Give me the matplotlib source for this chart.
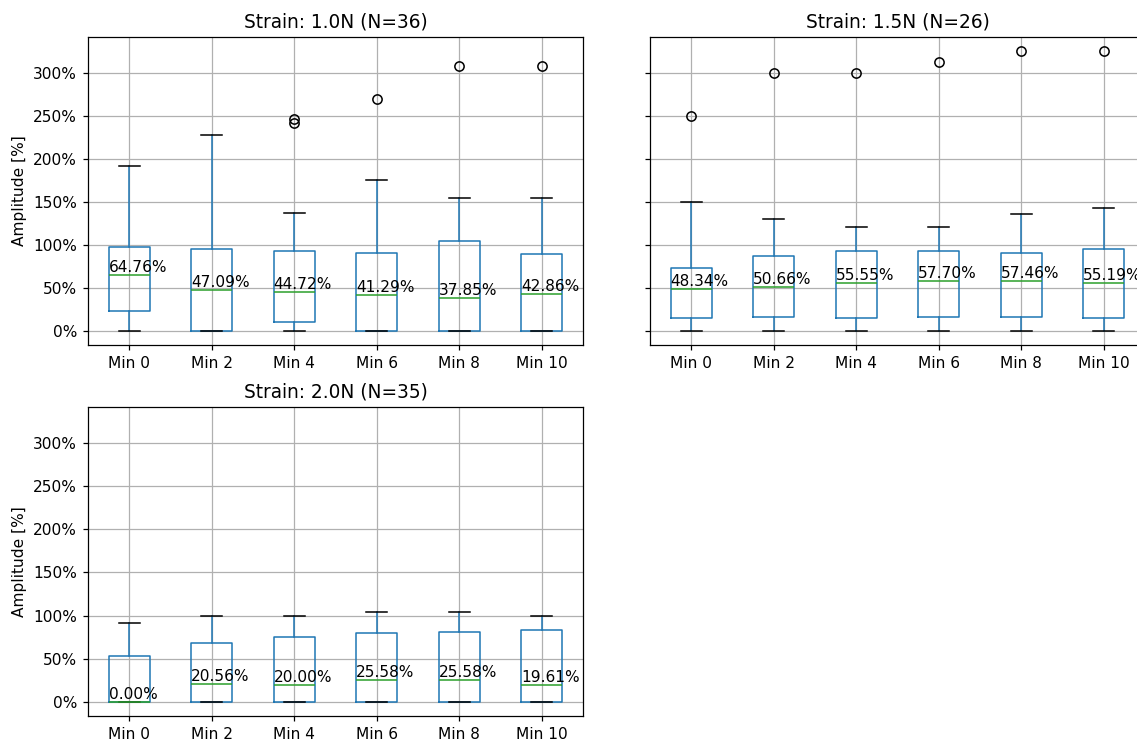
import matplotlib
matplotlib.use("Agg")
import matplotlib.pyplot as plt
from matplotlib.ticker import PercentFormatter

categories = ["Min 0", "Min 2", "Min 4", "Min 6", "Min 8", "Min 10"]

titles = ["Strain: 1.0N (N=36)", "Strain: 1.5N (N=26)", "Strain: 2.0N (N=35)"]

# values in percent
med_10 = [64.76, 47.09, 44.72, 41.29, 37.85, 42.86]
q1_10 = [22.8, 0.0, 10.4, 0.0, 0.0, 0.0]
q3_10 = [97.3, 95.4, 92.7, 90.7, 104.2, 89.2]
wlo_10 = [0, 0, 0, 0, 0, 0]
whi_10 = [191.0, 227.4, 137.5, 174.9, 154.4, 154.4]
fl_10 = [[], [], [240.9, 246.0], [269.0], [307.7], [307.7]]

med_15 = [48.34, 50.66, 55.55, 57.70, 57.46, 55.19]
q1_15 = [15.0, 16.2, 14.7, 15.8, 16.2, 14.7]
q3_15 = [73.0, 87.6, 93.4, 92.7, 90.7, 95.4]
wlo_15 = [0, 0, 0, 0, 0, 0]
whi_15 = [150.0, 130.0, 121.2, 121.2, 135.9, 142.9]
fl_15 = [[250.0], [300.0], [300.0], [312.5], [325.0], [325.0]]

med_20 = [0.00, 20.56, 20.00, 25.58, 25.58, 19.61]
q1_20 = [0, 0, 0, 0, 0, 0]
q3_20 = [53.3, 68.7, 75.3, 79.5, 80.7, 83.4]
wlo_20 = [0, 0, 0, 0, 0, 0]
whi_20 = [91.1, 100.0, 100.0, 104.6, 104.6, 100.0]
fl_20 = [[], [], [], [], [], []]

groups = [
    (med_10, q1_10, q3_10, wlo_10, whi_10, fl_10),
    (med_15, q1_15, q3_15, wlo_15, whi_15, fl_15),
    (med_20, q1_20, q3_20, wlo_20, whi_20, fl_20),
]

W, H = 1137, 739
dpi = 111
fig = plt.figure(figsize=(W / dpi, H / dpi), dpi=dpi)

def rect(l, r, t, b):
    return [l / W, 1 - b / H, (r - l) / W, (b - t) / H]

ax1 = fig.add_axes(rect(88, 583, 37, 345))
ax2 = fig.add_axes(rect(650, 1145, 37, 345), sharey=ax1)
ax3 = fig.add_axes(rect(88, 583, 407, 716), sharey=ax1)
axes = [ax1, ax2, ax3]

blue = "#1f77b4"
green = "#2ca02c"

for ax, title, (med, q1, q3, wlo, whi, fl) in zip(axes, titles, groups):
    stats = []
    for i, lab in enumerate(categories):
        stats.append(dict(med=med[i], q1=q1[i], q3=q3[i], whislo=wlo[i],
                          whishi=whi[i], fliers=fl[i], label=lab))
    positions = list(range(1, len(categories) + 1))
    ax.bxp(stats, positions=positions, widths=0.5,
           boxprops=dict(color=blue),
           whiskerprops=dict(color=blue),
           medianprops=dict(color=green),
           capprops=dict(color="black"),
           flierprops=dict(marker="o", markeredgecolor="black",
                           markerfacecolor="none"))
    ax.set_xticks(positions)
    ax.set_xticklabels(categories)
    ax.grid(True, color="#b0b0b0", linewidth=0.8)
    ax.set_axisbelow(True)
    ax.set_title(title, fontsize=12)
    for p, m in zip(positions, med):
        ax.text(p - 0.25, m, f"{m:.2f}%", ha="left", va="bottom", fontsize=10)
    ax.yaxis.set_major_formatter(PercentFormatter(xmax=100, decimals=0))

ax1.set_ylabel("Amplitude [%]")
ax3.set_ylabel("Amplitude [%]")
ax2.tick_params(axis="y", labelleft=False)
ax1.set_ylim(-16.25, 341.25)

fig.savefig("out.png", dpi=dpi)
